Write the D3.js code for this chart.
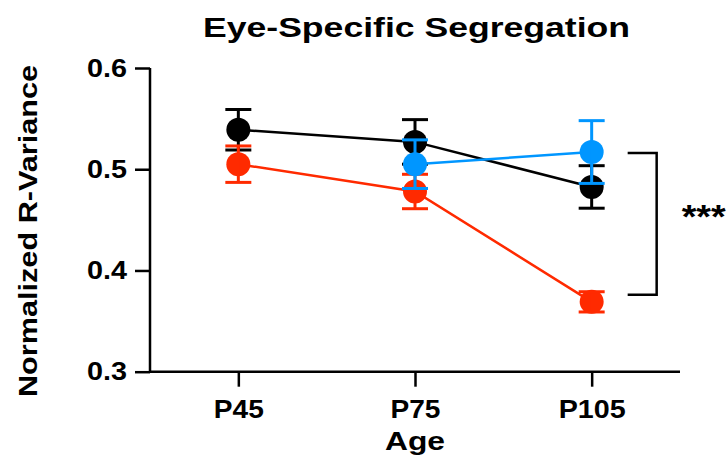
<!DOCTYPE html>
<html><head><meta charset="utf-8">
<script src="https://cdn.jsdelivr.net/npm/d3@7"></script>
<style>body{margin:0;background:#fff}svg{display:block}text{font-family:"Liberation Sans",Arial,sans-serif;font-weight:bold;fill:#000}</style>
</head><body>
<script>
const categories = ["P45", "P75", "P105"];
const yTicks = [0.3, 0.4, 0.5, 0.6];
const blackMean = [0.539, 0.527, 0.4825];
const blackSem  = [0.020, 0.022, 0.021];
const redMean   = [0.505, 0.478, 0.369];
const redSem    = [0.018, 0.017, 0.010];
const blueMean  = [null, 0.505, 0.517];
const blueSem   = [null, 0.024, 0.031];
const bracketValues = [0.516, 0.376];
const sigLabel = "***";

const W = 726, H = 462;
const svg = d3.select("body").append("svg").attr("width", W).attr("height", H);
const x = d3.scalePoint().domain(categories).range([150, 680]).padding(0.5);
const y = d3.scaleLinear().domain([0.3, 0.6]).range([371.7, 68]);

// axes
const yAxis = svg.append("g").attr("transform", "translate(150,0)")
  .call(d3.axisLeft(y).tickValues(yTicks).tickFormat(d3.format(".1f")).tickSize(15).tickPadding(8));
const xAxis = svg.append("g").attr("transform", "translate(0,371.7)")
  .call(d3.axisBottom(x).tickSize(15).tickPadding(8));
[yAxis, xAxis].forEach(g => {
  g.select(".domain").attr("stroke", "#000").attr("stroke-width", 2.5);
  g.selectAll(".tick line").attr("stroke", "#000").attr("stroke-width", 2.5);
  g.selectAll(".tick text").style("font-size", "25px").style("font-family", '"Liberation Sans",Arial,sans-serif').style("font-weight", "bold").attr("fill", "#000");
});
xAxis.select(".domain").attr("d", "M150,0H680");
yAxis.select(".domain").attr("d", "M0," + y(0.6) + "V" + (y(0.3) + 1.25));
yAxis.selectAll(".tick text").attr("textLength", 40).attr("lengthAdjust", "spacingAndGlyphs");
xAxis.selectAll(".tick text").attr("dy", "0.95em")
  .attr("textLength", d => d === "P105" ? 67 : 50).attr("lengthAdjust", "spacingAndGlyphs");

const series = [
  {mean: blackMean, sem: blackSem, color: "#000000"},
  {mean: redMean, sem: redSem, color: "#ff2a00"},
  {mean: blueMean, sem: blueSem, color: "#0096ff"}
];
series.forEach(s => {
  const pts = categories.map((c, i) => ({c, m: s.mean[i], e: s.sem[i]})).filter(p => p.m != null);
  const g = svg.append("g");
  g.append("path").datum(pts)
    .attr("d", d3.line().x(p => x(p.c)).y(p => y(p.m)))
    .attr("fill", "none").attr("stroke", s.color).attr("stroke-width", 2.5);
  g.selectAll("circle").data(pts).join("circle")
    .attr("cx", p => x(p.c)).attr("cy", p => y(p.m)).attr("r", 12).attr("fill", s.color);
  const eb = g.selectAll("g.eb").data(pts).join("g").attr("class", "eb");
  eb.append("line").attr("x1", p => x(p.c)).attr("x2", p => x(p.c))
    .attr("y1", p => y(p.m + p.e)).attr("y2", p => y(p.m - p.e));
  eb.append("line").attr("x1", p => x(p.c) - 13).attr("x2", p => x(p.c) + 13)
    .attr("y1", p => y(p.m + p.e)).attr("y2", p => y(p.m + p.e));
  eb.append("line").attr("x1", p => x(p.c) - 13).attr("x2", p => x(p.c) + 13)
    .attr("y1", p => y(p.m - p.e)).attr("y2", p => y(p.m - p.e));
  eb.selectAll("line").attr("stroke", s.color).attr("stroke-width", 3);
});

// significance bracket
const bx = x("P105") + 65;
svg.append("path")
  .attr("d", `M${bx - 29},${y(bracketValues[0])}H${bx}V${y(bracketValues[1])}H${bx - 29}`)
  .attr("fill", "none").attr("stroke", "#000").attr("stroke-width", 2.5);
svg.append("text").attr("x", bx + 25).attr("y", (y(bracketValues[0]) + y(bracketValues[1])) / 2 + 4)
  .style("font-size", "34px").attr("textLength", 44).attr("lengthAdjust", "spacingAndGlyphs").text(sigLabel);

// titles
svg.append("text").attr("x", 416.5).attr("y", 37).attr("text-anchor", "middle")
  .style("font-size", "28px").attr("textLength", 427).attr("lengthAdjust", "spacingAndGlyphs")
  .text("Eye-Specific Segregation");
svg.append("text").attr("x", 415).attr("y", 450).attr("text-anchor", "middle")
  .style("font-size", "26px").attr("textLength", 60).attr("lengthAdjust", "spacingAndGlyphs").text("Age");
svg.append("text").attr("transform", "translate(37,231) rotate(-90)").attr("text-anchor", "middle")
  .style("font-size", "26px").attr("textLength", 332).attr("lengthAdjust", "spacingAndGlyphs")
  .text("Normalized R-Variance");
</script>
</body></html>
